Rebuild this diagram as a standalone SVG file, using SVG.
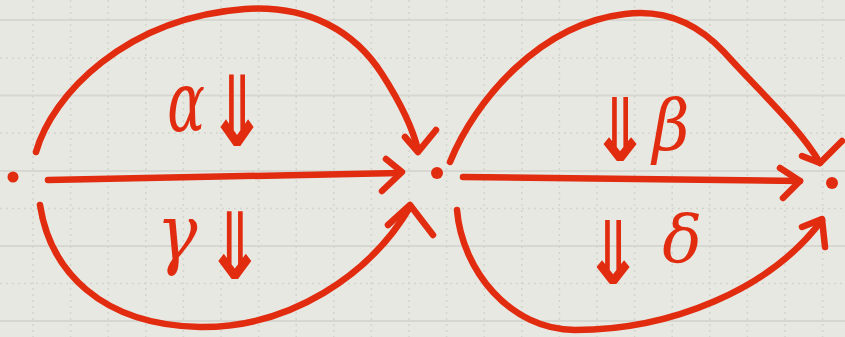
<svg xmlns="http://www.w3.org/2000/svg" width="845" height="337" viewBox="0 0 845 337">
<style>
.bg{fill:#e8e8e3}
.gs{stroke:#d6d7d1;stroke-width:2;fill:none}
.gd{stroke:#d3d4ce;stroke-width:1.5;stroke-dasharray:2 4;fill:none}
.ink{stroke:#e12c10;stroke-width:6.5;fill:none;stroke-linecap:round;stroke-linejoin:round}
.dot{fill:#e12c10}
.gr{font-family:"DejaVu Serif","Liberation Serif",serif;font-style:italic;fill:#e12c10;text-anchor:middle}
.ar{font-family:"DejaVu Sans Mono","DejaVu Sans",monospace;font-weight:bold;fill:#e12c10;text-anchor:middle;font-size:72px}
</style>
<rect class="bg" x="0" y="0" width="845" height="337"/>
<g id="grid">
<path class="gs" d="M0,20H845M0,95.5H845M0,171H845M0,246H845M0,321H845"/>
<path class="gd" d="M0,58H845M0,133H845M0,208.5H845M0,283.5H845"/>
<path class="gd" d="M33,0V337M70.6,0V337M108.2,0V337M145.8,0V337M183.4,0V337M221,0V337M258.6,0V337M296.2,0V337M333.8,0V337M371.4,0V337M409,0V337M446.6,0V337M484.2,0V337M521.8,0V337M559.4,0V337M597,0V337M634.6,0V337M672.2,0V337M709.8,0V337M747.4,0V337M785,0V337M822.6,0V337"/>
</g>
<g id="connectors">
<path class="ink" d="M36,152 C52,95 125,18 245,9 C310,5 355,32 382,74 C400,102 412,125 418,150"/>
<path class="ink" d="M405,137 L418,152 L436,130"/>
<path class="ink" d="M48,180 L400,173"/>
<path class="ink" d="M386,159 L402,172 L382,191"/>
<path class="ink" d="M40,205 C50,270 100,325 200,327 C290,328 370,275 410,207"/>
<path class="ink" d="M388,225 L410,205 L433,235"/>
<path class="ink" d="M450,162 C475,100 540,24 625,14 C665,9 698,24 724,52 C760,92 800,128 820,163"/>
<path class="ink" d="M802,156 L820,163 L842,141"/>
<path class="ink" d="M463,177 L800,181"/>
<path class="ink" d="M780,168 L800,181 L783,198"/>
<path class="ink" d="M457,210 C462,270 510,330 575,330 C670,330 770,290 822,220"/>
<path class="ink" d="M802,227 L822,219 L825,247"/>
</g>
<g id="node-a"><circle class="dot" cx="13" cy="177" r="5.5"/></g>
<g id="node-b"><circle class="dot" cx="437" cy="173" r="6"/></g>
<g id="node-c"><circle class="dot" cx="832" cy="183" r="6"/></g>
<g id="label-alpha">
<text class="gr" font-size="62" transform="translate(186,131) scale(0.9,1.35)">α</text>
<text class="ar" transform="translate(237,146) scale(1.3,1.85)">⇓</text>
</g>
<g id="label-gamma">
<text class="gr" font-size="68" transform="translate(177,260) scale(1,1.15)">γ</text>
<text class="ar" transform="translate(235,279) scale(1.3,1.75)">⇓</text>
</g>
<g id="label-beta">
<text class="ar" transform="translate(620,161) scale(1.3,1.65)">⇓</text>
<text class="gr" font-size="64" transform="translate(671,150) scale(1,1.1)">β</text>
</g>
<g id="label-delta">
<text class="ar" transform="translate(613,284) scale(1.3,1.65)">⇓</text>
<text class="gr" font-size="66" transform="translate(682,262)">δ</text>
</g>
</svg>
